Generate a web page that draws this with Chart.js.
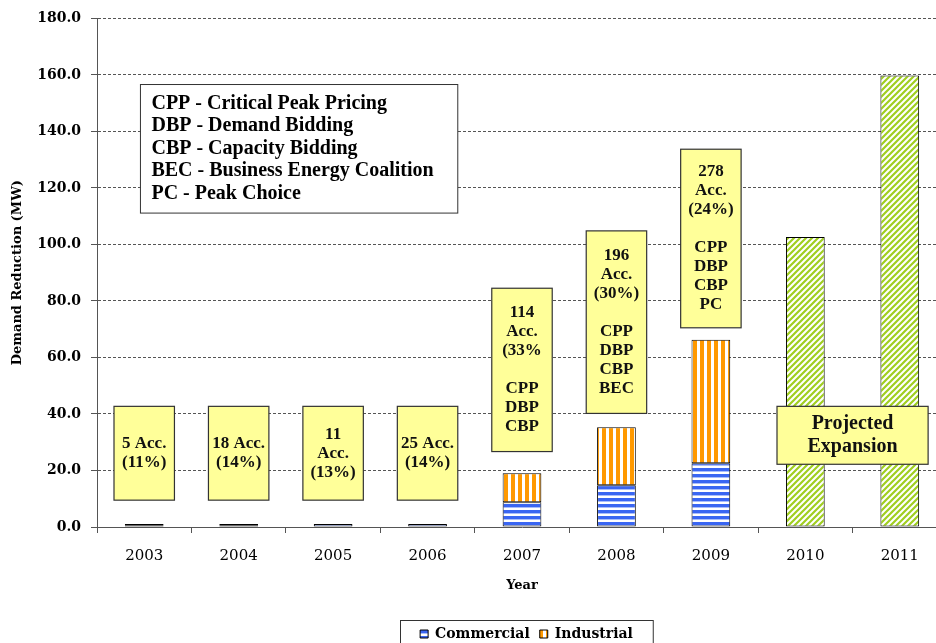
<!DOCTYPE html>
<html>
<head>
<meta charset="utf-8">
<script src="https://cdn.jsdelivr.net/npm/chart.js@4.4.0/dist/chart.umd.min.js"></script>
<style>
html, body { margin: 0; padding: 0; background: #fff; overflow: hidden; }
#wrap { width: 960px; height: 660px; }
</style>
</head>
<body>
<div id="wrap"><canvas id="chart" width="960" height="660"></canvas></div>
<script>
// data (MW)
const years = ["2003", "2004", "2005", "2006", "2007", "2008", "2009", "2010", "2011"];
const commercial = [0.6, 0.6, 1.1, 1.1, 8.8, 14.8, 22.6, null, null];
const industrial = [0.5, 0.5, 0, 0, 10.2, 20.5, 43.7, null, null];
const projected = [null, null, null, null, null, null, null, 102.6, 159.8];
const yMin = 0, yMax = 180, yStep = 20;

// yellow call-outs above each year (top / bottom in MW)
const noteIndex = [0, 1, 2, 3, 4, 5, 6];
const noteTop = [42.7, 42.7, 42.7, 42.7, 84.5, 104.8, 133.7];
const noteBottom = [9.5, 9.5, 9.5, 9.5, 26.7, 40.2, 70.5];
const noteText = [
    ["5 Acc.", "(11%)"],
    ["18 Acc.", "(14%)"],
    ["11", "Acc.", "(13%)"],
    ["25 Acc.", "(14%)"],
    ["114", "Acc.", "(33%", "", "CPP", "DBP", "CBP"],
    ["196", "Acc.", "(30%)", "", "CPP", "DBP", "CBP", "BEC"],
    ["278", "Acc.", "(24%)", "", "CPP", "DBP", "CBP", "PC"]
];
const projectedNote = ["Projected", "Expansion"];
const programNames = [
    "CPP - Critical Peak Pricing",
    "DBP - Demand Bidding",
    "CBP - Capacity Bidding",
    "BEC - Business Energy Coalition",
    "PC - Peak Choice"
];

// fill patterns
function makePattern(kind) {
    const c = document.createElement("canvas");
    const g = c.getContext("2d");
    if (kind === "h") {
        c.width = 6; c.height = 6;
        g.fillStyle = "#ffffff"; g.fillRect(0, 0, 6, 6);
        g.fillStyle = "#3a66f2"; g.fillRect(0, 0, 6, 3);
        g.fillStyle = "#a9bdfb"; g.fillRect(0, 3, 6, 1);
    } else if (kind === "v") {
        c.width = 7; c.height = 7;
        g.fillStyle = "#ffffff"; g.fillRect(0, 0, 7, 7);
        g.fillStyle = "#ff9900"; g.fillRect(0, 0, 4, 7);
    } else {
        c.width = 6; c.height = 6;
        g.fillStyle = "#ffffff"; g.fillRect(0, 0, 6, 6);
        g.strokeStyle = "#a0cf20"; g.lineWidth = 2.2;
        g.beginPath();
        g.moveTo(-1, 7); g.lineTo(7, -1);
        g.moveTo(-4, 4); g.lineTo(4, -4);
        g.moveTo(2, 10); g.lineTo(10, 2);
        g.stroke();
    }
    return g.createPattern(c, "repeat");
}

const gridColor = "#555555";

const notesPlugin = {
    id: "notes",
    afterLayout(chart) {
        // legend sits right of centre in the original
        chart.legend.left += 53;
        chart.legend.right += 53;
    },
    afterDatasetsDraw(chart) {
        const ctx = chart.ctx;
        const xs = chart.scales.x, ys = chart.scales.y;
        const catW = xs.width / years.length;
        ctx.save();
        ctx.textAlign = "center";
        ctx.textBaseline = "middle";

        // year call-outs
        noteIndex.forEach((idx, i) => {
            const cx = xs.getPixelForValue(idx);
            const w = catW * 0.64;
            const top = ys.getPixelForValue(noteTop[i]);
            const bot = ys.getPixelForValue(noteBottom[i]);
            ctx.fillStyle = "#ffff99";
            ctx.fillRect(cx - w / 2, top, w, bot - top);
            ctx.strokeStyle = "#333333";
            ctx.lineWidth = 1.2;
            ctx.strokeRect(cx - w / 2, top, w, bot - top);
            ctx.fillStyle = "#111111";
            ctx.font = "bold 17px 'Liberation Serif'";
            const lh = 19;
            const lines = noteText[i];
            const y0 = (top + bot) / 2 - (lines.length - 1) * lh / 2;
            lines.forEach((t, k) => ctx.fillText(t, cx, y0 + k * lh));
        });

        // projected expansion
        {
            const l = xs.getPixelForValue(6.7), r = xs.getPixelForValue(8.3);
            const top = ys.getPixelForValue(42.7), bot = ys.getPixelForValue(22.2);
            ctx.fillStyle = "#ffff99";
            ctx.fillRect(l, top, r - l, bot - top);
            ctx.strokeStyle = "#333333";
            ctx.lineWidth = 1.2;
            ctx.strokeRect(l, top, r - l, bot - top);
            ctx.fillStyle = "#111111";
            ctx.font = "bold 20px 'Liberation Serif'";
            ctx.fillText(projectedNote[0], (l + r) / 2, (top + bot) / 2 - 11);
            ctx.fillText(projectedNote[1], (l + r) / 2, (top + bot) / 2 + 12);
        }

        // program names
        {
            const l = xs.getPixelForValue(-0.04), r = xs.getPixelForValue(3.32);
            const top = ys.getPixelForValue(156.6), bot = ys.getPixelForValue(111.1);
            ctx.fillStyle = "#ffffff";
            ctx.fillRect(l, top, r - l, bot - top);
            ctx.strokeStyle = "#333333";
            ctx.lineWidth = 1;
            ctx.strokeRect(l, top, r - l, bot - top);
            ctx.fillStyle = "#000000";
            ctx.textAlign = "left";
            ctx.font = "bold 20px 'Liberation Serif'";
            programNames.forEach((t, k) => ctx.fillText(t, l + 11, top + 19 + k * 22.5));
        }
        ctx.restore();
    },
    afterDraw(chart) {
        // frame round the legend
        const boxes = chart.legend.legendHitBoxes;
        if (!boxes || !boxes.length) return;
        const l = Math.min(...boxes.map(b => b.left)) - 20;
        const r = Math.max(...boxes.map(b => b.left + b.width)) + 20;
        const t = boxes[0].top - 7;
        const ctx = chart.ctx;
        ctx.save();
        ctx.strokeStyle = "#333333";
        ctx.lineWidth = 1;
        ctx.strokeRect(Math.round(l) + 0.5, Math.round(t) + 0.5, r - l, 40);
        ctx.restore();
    }
};

const ctx = document.getElementById("chart");

new Chart(ctx, {
    type: "bar",
    data: {
        labels: years,
        datasets: [
            {
                label: "Commercial",
                data: commercial,
                backgroundColor: makePattern("h"),
                borderColor: "#000000",
                borderWidth: 1,
                borderSkipped: false
            },
            {
                label: "Industrial",
                data: industrial,
                backgroundColor: makePattern("v"),
                borderColor: "#000000",
                borderWidth: 1,
                borderSkipped: false
            },
            {
                label: "Projected",
                data: projected,
                backgroundColor: makePattern("d"),
                borderColor: "#000000",
                borderWidth: 1,
                borderSkipped: false
            }
        ]
    },
    options: {
        responsive: false,
        animation: false,
        categoryPercentage: 1,
        barPercentage: 0.41,
        layout: { padding: { top: 17, left: 0, right: 13, bottom: 9 } },
        plugins: {
            legend: {
                position: "bottom",
                labels: {
                    filter: item => item.text !== "Projected",
                    boxWidth: 8,
                    boxHeight: 8,
                    padding: 10,
                    color: "#000",
                    font: { family: "'DejaVu Serif'", size: 14, weight: "bold" }
                }
            },
            tooltip: { enabled: false },
            title: { display: false }
        },
        scales: {
            x: {
                stacked: true,
                afterFit: s => { s.height = 90; },
                grid: {
                    offset: true,
                    drawOnChartArea: false,
                    drawTicks: true,
                    tickLength: 6,
                    color: gridColor
                },
                border: { color: gridColor, width: 1 },
                ticks: {
                    padding: 14,
                    color: "#000",
                    font: { family: "'DejaVu Serif'", size: 15 }
                },
                title: {
                    display: true,
                    text: "Year",
                    color: "#000",
                    font: { family: "'DejaVu Serif'", size: 13, weight: "bold" },
                    padding: { top: 0, bottom: 24 }
                }
            },
            y: {
                stacked: true,
                min: yMin,
                max: yMax,
                afterFit: s => { s.width = 97; },
                grid: {
                    color: gridColor,
                    tickBorderDash: [],
                    tickLength: 6
                },
                border: { color: gridColor, width: 1, dash: [3, 2] },
                ticks: {
                    stepSize: yStep,
                    padding: 10,
                    color: "#000",
                    font: { family: "'DejaVu Serif'", size: 14, weight: "bold" },
                    callback: v => v.toFixed(1)
                },
                title: {
                    display: true,
                    text: "Demand Reduction (MW)",
                    color: "#000",
                    font: { family: "'DejaVu Serif'", size: 13, weight: "bold" },
                    padding: { top: 10, bottom: 0 }
                }
            }
        }
    },
    plugins: [notesPlugin]
});
</script>
</body>
</html>
